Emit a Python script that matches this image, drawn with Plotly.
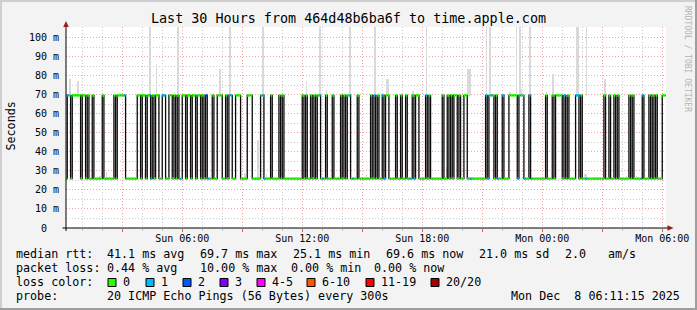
import plotly.graph_objects as go
from datetime import datetime, timedelta

# ------------------------------------------------------------------ data
SUN = datetime(2025, 12, 7)                      # Sun 00:00
T_START = datetime(2025, 12, 7, 0, 11, 15)
T_END = datetime(2025, 12, 8, 6, 11, 15)
STEP_MIN = 5                                     # 300 s steps

# median rtt: runs (minutes after Sun 00:00) during which the median sat near 70 ms
high_run_start = [15, 30, 60, 75, 90, 120, 155, 165, 225, 240, 255, 270, 280, 300,
                  320, 335, 345, 360, 375, 390, 405, 420, 430, 450, 465, 490, 500, 520, 555, 595,
                  625, 650, 660, 720, 730, 745, 755, 765, 790, 810, 835, 845, 855, 885,
                  925, 935, 945, 960, 970, 1000, 1015, 1030, 1050, 1060, 1090, 1100, 1140, 1155,
                  1165, 1175, 1190, 1205,
                  1270, 1280, 1300, 1320, 1340, 1370, 1400, 1450, 1470, 1480, 1505,
                  1515, 1540, 1555, 1625, 1640, 1655, 1665, 1700, 1710, 1740, 1760, 1770, 1780, 1800]
high_run_end = [25, 55, 70, 80, 95, 125, 160, 190, 235, 250, 265, 275, 290, 310,
                330, 340, 350, 370, 385, 400, 415, 425, 435, 455, 480, 495, 510, 535, 570, 605,
                630, 655, 665, 725, 735, 750, 760, 775, 795, 815, 840, 850, 865, 890,
                930, 940, 950, 965, 980, 1005, 1020, 1035, 1055, 1070, 1095, 1105, 1145, 1160,
                1170, 1185, 1195, 1215,
                1275, 1295, 1305, 1325, 1365, 1385, 1405, 1455, 1475, 1500, 1510,
                1520, 1550, 1560, 1630, 1645, 1660, 1670, 1705, 1715, 1745, 1765, 1775, 1785, 1815]
median_high_ms = 69.6
median_low_ms = 25.9

# steps (start minute) whose packet loss was 1/20 and 2/20
loss1_steps = [15, 185, 260, 265, 300, 305, 350, 435, 500, 505, 600, 605, 770, 780, 860, 870,
               935, 960, 965, 1040, 1055, 1090, 1220, 1225, 1270, 1275, 1285, 1305, 1320, 1365,
               1370, 1385, 1400, 1405, 1505, 1540, 1545, 1570, 1735, 1740]
loss2_steps = [430]

# smoke (ping spread): step start minute, lower and upper edge in ms
smoke_step = [20, 45, 260, 280, 345, 430, 470, 500, 600, 730, 770, 790, 860, 935, 970, 975,
              1050, 1090, 1215, 1220, 1270, 1280, 1340, 1360, 1370, 1375, 1400, 1450, 1470,
              1540, 1545, 1570, 1625, 1655,
              110, 130, 245, 310, 545, 585, 610, 910, 1150, 1565, 1570, 1690, 1720]
smoke_low = [69.5] * 34 + [25.9] * 13
smoke_high = [78, 77, 110, 86, 110, 71, 83.6, 110, 110, 77, 110, 72.3, 110, 110, 78, 78,
              72, 110, 83.6, 83.6, 110, 110, 71.5, 110, 110, 73, 110, 71.5, 81,
              110, 110, 110, 78, 70.5,
              27.5, 29.5, 29.6, 27.5, 29, 46, 28.6, 28, 32, 28.2, 28.2, 27.5, 27.5]

loss_classes = ["0", "1", "2", "3", "4-5", "6-10", "11-19", "20/20"]
loss_colors = ["#26ff00", "#00b8ff", "#0059ff", "#7e00ff", "#ff00ff", "#ff5500", "#ff0000", "#a10000"]

y_tick_vals = [0, 10, 20, 30, 40, 50, 60, 70, 80, 90, 100]
y_tick_text = ["0\u00a0\u00a0", "10 m", "20 m", "30 m", "40 m", "50 m", "60 m", "70 m", "80 m", "90 m", "100 m"]
x_tick_hours = [3, 6, 9, 12, 15, 18, 21, 24, 27, 30]
x_tick_text = ["", "Sun 06:00", "", "Sun 12:00", "", "Sun 18:00", "", "Mon 00:00", "", "Mon 06:00"]

title_text = "Last 30 Hours from 464d48b6ba6f to time.apple.com"
stat_line1 = [("median rtt:", 16), ("41.1 ms avg", 107), ("69.7 ms max", 200), ("25.1 ms min", 293),
              ("69.6 ms now", 386), ("21.0 ms sd", 479), ("2.0", 565), ("am/s", 608)]
stat_line2 = [("packet loss:", 16), ("0.44 % avg", 107), ("10.00 % max", 200), ("0.00 % min", 291),
              ("0.00 % now", 374)]
probe_text = "20 ICMP Echo Pings (56 Bytes) every 300s"
stamp_text = "Mon Dec\u00a0\u00a08 06:11:15 2025"

# ------------------------------------------------------------------ derived series
def t(m):
    return SUN + timedelta(minutes=m)

step_starts = list(range(10, 1815, STEP_MIN))
median = []
for m in step_starts:
    hi = any(s <= m < e for s, e in zip(high_run_start, high_run_end))
    median.append(median_high_ms if hi else median_low_ms)

def loss_class(m):
    if m in loss2_steps:
        return 2
    if m in loss1_steps:
        return 1
    return 0

# ------------------------------------------------------------------ geometry helpers (pixels -> paper)
PL, PR, PT, PB = 66, 666, 27, 228
W, H = 697, 310
def px(x):
    return (x - PL) / (PR - PL)
def py(y):
    return (PB - y) / (PB - PT)

MONO = "DejaVu Sans Mono"
MGRID = "#eba3a3"
GRID = "#cacaca"
DASH = "1px,2px"

fig = go.Figure()

# smoke
fig.add_trace(go.Bar(
    x=[t(m + STEP_MIN / 2) for m in smoke_step],
    y=[h - l for l, h in zip(smoke_low, smoke_high)],
    base=smoke_low,
    width=[STEP_MIN * 60000] * len(smoke_step),
    marker=dict(color="#d9d9d9", line=dict(width=0)),
    hoverinfo="skip",
))

# median (dark step line)
fig.add_trace(go.Scatter(
    x=[t(m) for m in step_starts] + [t(step_starts[-1] + STEP_MIN)],
    y=median + [median[-1]],
    mode="lines", line=dict(color="#0a0a0a", width=1.3, shape="hv"),
    hoverinfo="skip",
))

# loss-coloured median bands
for ci, col in enumerate(loss_colors):
    xs, ys = [], []
    for m, v in zip(step_starts, median):
        if loss_class(m) == ci:
            xs += [t(m), t(m + STEP_MIN), None]
            ys += [v, v, None]
    if xs:
        fig.add_trace(go.Scatter(x=xs, y=ys, mode="lines",
                                 line=dict(color=col, width=2.6), hoverinfo="skip"))

shapes = []
# frame (3D border)
shapes.append(dict(type="rect", xref="paper", yref="paper", x0=px(0), x1=px(W), y0=py(0), y1=py(2),
                   fillcolor="#cfcfcf", line=dict(width=0), layer="above"))
shapes.append(dict(type="rect", xref="paper", yref="paper", x0=px(0), x1=px(2), y0=py(0), y1=py(H),
                   fillcolor="#cfcfcf", line=dict(width=0), layer="above"))
shapes.append(dict(type="rect", xref="paper", yref="paper", x0=px(W - 2), x1=px(W), y0=py(0), y1=py(H),
                   fillcolor="#9e9e9e", line=dict(width=0), layer="above"))
shapes.append(dict(type="rect", xref="paper", yref="paper", x0=px(0), x1=px(W), y0=py(H - 2), y1=py(H),
                   fillcolor="#9e9e9e", line=dict(width=0), layer="above"))
# axis extensions and arrows
shapes.append(dict(type="line", xref="paper", yref="paper", x0=px(62.5), x1=px(669), y0=0, y1=0,
                   line=dict(color="#000000", width=1), layer="above"))
shapes.append(dict(type="line", xref="paper", yref="paper", x0=0, x1=0, y0=py(PB + 3), y1=py(24),
                   line=dict(color="#000000", width=1), layer="above"))
shapes.append(dict(type="path", xref="paper", yref="paper",
                   path=f"M {px(63.2)} {py(27)} L {px(68.8)} {py(27)} L {px(66)} {py(21)} Z",
                   fillcolor="#9b1c1c", line=dict(width=0), layer="above"))
shapes.append(dict(type="path", xref="paper", yref="paper",
                   path=f"M {px(667.5)} {py(225.2)} L {px(667.5)} {py(230.8)} L {px(673.5)} {py(228)} Z",
                   fillcolor="#9b1c1c", line=dict(width=0), layer="above"))

annotations = []
annotations.append(dict(text=title_text, xref="paper", yref="paper", x=px(348.5), y=py(19),
                        xanchor="center", yanchor="middle", showarrow=False,
                        font=dict(family=MONO, size=13.4, color="#000")))
annotations.append(dict(text="Seconds", xref="paper", yref="paper", x=px(10.5), y=py(126),
                        xanchor="center", yanchor="middle", textangle=-90, showarrow=False,
                        font=dict(family=MONO, size=11.7, color="#000")))
annotations.append(dict(text="RRDTOOL / TOBI OETIKER", xref="paper", yref="paper", x=px(688), y=py(59),
                        xanchor="center", yanchor="middle", textangle=90, showarrow=False,
                        font=dict(family=MONO, size=8, color="#b4b4b4")))

def legend_text(txt, x, y, anchor="left"):
    annotations.append(dict(text=txt, xref="paper", yref="paper", x=px(x), y=py(y),
                            xanchor=anchor, yanchor="middle", showarrow=False, borderpad=0,
                            font=dict(family=MONO, size=11.7, color="#000")))

for txt, x in stat_line1:
    legend_text(txt, x - 1, 254)
for txt, x in stat_line2:
    legend_text(txt, x - 1, 268)
legend_text("loss color:", 15, 282)
sq_x = [108, 146, 183, 220, 257, 307, 366, 431]
for label, col, x in zip(loss_classes, loss_colors, sq_x):
    shapes.append(dict(type="rect", xref="paper", yref="paper", x0=px(x), x1=px(x + 8),
                       y0=py(286.5), y1=py(278.5), fillcolor=col,
                       line=dict(color="#000", width=1), layer="above"))
    legend_text(label, x + 14, 282)
legend_text("probe:", 15, 296)
legend_text(probe_text, 106, 296)
legend_text(stamp_text, 681, 296, anchor="right")

fig.update_layout(
    width=W, height=H,
    margin=dict(l=PL, r=W - PR, t=PT, b=H - PB, pad=0),
    paper_bgcolor="#f3f3f3", plot_bgcolor="#ffffff",
    showlegend=False, bargap=0, barmode="overlay",
    font=dict(family=MONO, size=10, color="#000"),
    shapes=shapes, annotations=annotations,
    xaxis=dict(type="date", range=[T_START, T_END], automargin=False, fixedrange=True,
               tickmode="array", tickvals=[t(h * 60) for h in x_tick_hours], ticktext=x_tick_text,
               showgrid=True, gridcolor=MGRID, griddash=DASH, gridwidth=1,
               ticks="outside", ticklen=3, tickcolor="#e06060", tickwidth=1,
               showline=False, zeroline=False, tickfont=dict(family=MONO, size=10, color="#000"),
               ticklabelstandoff=-2,
               minor=dict(tickmode="linear", tick0="2025-12-07 00:00:00", dtick=3600000,
                          showgrid=True, gridcolor=GRID, griddash=DASH, gridwidth=1,
                          ticks="outside", ticklen=2, tickcolor="#c0c0c0")),
    yaxis=dict(range=[0, 105.5], automargin=False, fixedrange=True,
               tickmode="array", tickvals=y_tick_vals, ticktext=y_tick_text,
               showgrid=True, gridcolor=MGRID, griddash=DASH, gridwidth=1,
               ticks="", showline=False, zeroline=False, ticklabelstandoff=6,
               tickfont=dict(family=MONO, size=10, color="#000"),
               minor=dict(tickmode="linear", tick0=0, dtick=5, showgrid=True,
                          gridcolor=GRID, griddash=DASH, gridwidth=1)),
)

fig.write_html("out.html", config={"displayModeBar": False, "staticPlot": True})
